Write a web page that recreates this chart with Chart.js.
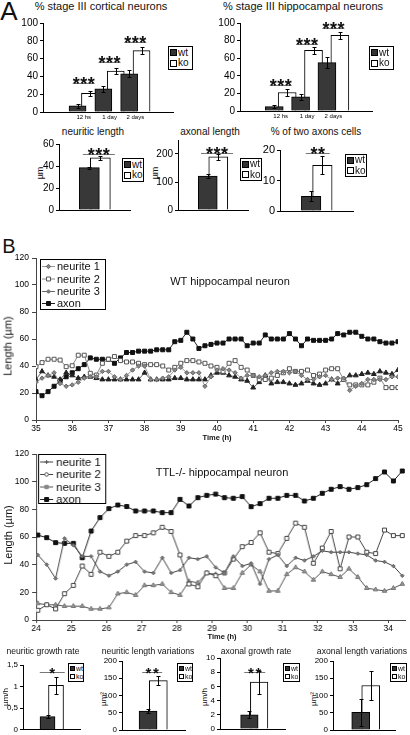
<!DOCTYPE html>
<html>
<head>
<meta charset="utf-8">
<title>TTL neurons</title>
<script src="https://cdn.jsdelivr.net/npm/chart.js@4.4.1/dist/chart.umd.min.js"></script>
<style>
  body { margin: 0; width: 410px; height: 735px; position: relative; overflow: hidden; background: #fff;
         font-family: "Liberation Sans", Arial, sans-serif; color: #111; }
  .box { position: absolute; }
  .txt { position: absolute; white-space: nowrap; line-height: 1; transform: translate(-50%, -50%); }
  .rot { transform: translate(-50%, -50%) rotate(-90deg); }
  .lg { position: absolute; border: 1px solid #000; background: #fff; box-sizing: border-box; white-space: nowrap;
        overflow: hidden; display: flex; flex-direction: column; justify-content: space-evenly; line-height: 1; z-index: 2; }
  .lg div { display: flex; align-items: center; }
  .lg span { display: inline-block; flex: none; border: 1px solid #000; box-sizing: border-box; margin: 0 1px 0 1px; }
</style>
</head>
<body>
<script>
// ---- panel A data ----
const stageGroups = ['12 hs', '1 day', '2 days'];
const legendLabels = ['wt', 'ko'];
const stageSig = ['***', '***', '***'];
const cortWt = [7, 26, 43], cortWtErr = [2, 3, 4];
const cortKo = [21, 46, 69], cortKoErr = [2.5, 3, 3.5];
const hipWt = [5, 16, 55], hipWtErr = [2, 3.5, 6];
const hipKo = [21, 69, 86], hipKoErr = [3.5, 4, 4];

const neuriticLenWt = [38.5], neuriticLenWtErr = [1], neuriticLenKo = [47.5], neuriticLenKoErr = [2];
const axonalLenWt = [121], axonalLenWtErr = [8], axonalLenKo = [190], axonalLenKoErr = [11];
const twoAxonsWt = [4.8], twoAxonsWtErr = [1.6], twoAxonsKo = [15], twoAxonsKoErr = [3];

// ---- panel B data ----
const seriesNames = ['neurite 1', 'neurite 2', 'neurite 3', 'axon'];
const wtStart = 35, wtStep = 1 / 6;     // h, one frame every 10 min
const wtNeurite1 = [28,31,33,35,27,25,26,28,31,32, 32,36,36,32,30,33,37,40,40,30, 30,31,32,37,39,35,35,35,25,32,
                    37,38,37,35,31,33,33,32,33,35, 36,36,35,36,33,30,30,32,33,30, 31,31,22,25,27,30,30,30,30,32, 32];
const wtNeurite2 = [39.5,42.5,45,45,44.4,39.5,40.2,48,48,34.6, 33.3,42,45,47,44,43,43,42,41,41, 41,40,37,39,42,44,44,43,42,40,
                    39,36,42,44,39,37,33,30,30,31, 33,35,38,36,36,37,33,34,37,38, 38,30,26,26,26,26,28,31,24,24, 24];
const wtNeurite3 = [30,36,33,32,30,35,33,31,32,32, 31,30,30,30,30,30,30,30,35,30, 30,30,30,31,31,30,30,30,30,33,
                    35,35,33,32,30,29,24,28,33,27, 28,28,27,26,27,29,27,26,27,30, 27,30,33,33,34,35,34,36,35,34, 37];
const wtAxon = [21,18,21,25,29,32,35,38,41,46, 45,45,45,42,46,50,50,51,51,51, 52,52,52,58,59,65,60,53,55,56,
                57,57,60,60,60,55,57,57,63,60, 60,60,64,60,55,60,59,59,59,60, 64,63,65,65,62,60,60,58,57,57, 58];

const ttlStart = 24.05, ttlStep = 0.2525;  // h, about one frame every 15 min
const ttlNeurite1 = [47,40,30,59,54,46,46,35,32,35, 40,42,35,34,45,34,36,45,44,46,
                     38,34,46,39,41,26,44,47,39,45, 43,46,50,49,49,49,48,47,43,42, 39,32];
const ttlNeurite2 = [7,11,8,19,25,39,33,49,46,49, 57,61,61,63,67,64,47,26,24,34,
                     32,34,44,53,56,63,49,48,59,70, 67,41,52,64,37,60,60,49,48,65, 61,61];
const ttlNeurite3 = [12,11,11,10,10,10,8,8,9,19, 20,18,25,25,26,20,18,28,27,34,
                     33,23,23,34,40,35,21,21,33,38, 35,29,35,33,31,37,31,23,22,21, 23,26];
const ttlAxon = [61.4,59.5,55.9,55.4,55.4,45,64.3,74,80.5,83.1, 82,78.8,78.8,78.8,77.6,77.6,87.2,82.4,88.4,90.1,
                 91,88.4,88,89.2,81.9,84.1,88,88,90.1,90.1, 86,88,91.6,94.5,96.4,94.5,95.7,97.8,102.2,107, 100.5,107.7];

const neuGrowthWt = [0.3], neuGrowthWtErr = [0.03], neuGrowthKo = [1.03], neuGrowthKoErr = [0.2];
const neuVarWt = [55], neuVarWtErr = [5], neuVarKo = [143], neuVarKoErr = [13];
const axGrowthWt = [2.0], axGrowthWtErr = [0.5], axGrowthKo = [6.6], axGrowthKoErr = [1.6];
const axVarWt = [51], axVarWtErr = [40], axVarKo = [129], axVarKoErr = [42];

const FONT = '"Liberation Sans", Arial, sans-serif';
Chart.defaults.font.family = FONT;
Chart.defaults.color = '#000';

function label(str, cx, cy, size, cls, extra) {
  const d = document.createElement('div');
  d.className = 'txt ' + (cls || '');
  d.style.cssText = `left:${cx}px;top:${cy}px;font-size:${size}px;` + (extra || '');
  d.textContent = str;
  document.body.appendChild(d);
}

function barLegend(x, y, w, h, fs, sq) {
  const d = document.createElement('div');
  d.className = 'lg';
  d.style.cssText = `left:${x}px;top:${y}px;width:${w}px;height:${h}px;font-size:${fs}px`;
  d.innerHTML = legendLabels.map((l, i) =>
    `<div><span style="width:${sq}px;height:${sq}px;background:${i ? '#fff' : '#333'}"></span>${l}</div>`).join('');
  document.body.appendChild(d);
}

// canvas sized so that the plot area lands on b.L..b.R / b.T..b.B
function place(b) {
  const d = document.createElement('div');
  d.className = 'box';
  const w = b.R - b.L + b.axW + b.padR, h = b.B - b.T + b.padT + b.axH;
  d.style.cssText = `left:${b.L - b.axW}px;top:${b.T - b.padT}px;width:${w}px;height:${h}px`;
  const c = document.createElement('canvas');
  d.appendChild(c);
  document.body.appendChild(d);
  return c;
}
const fixX = h => s => { s.height = h; s.paddingLeft = 0; s.paddingRight = 0; };
const fixY = w => s => { s.width = w; s.paddingTop = 0; s.paddingBottom = 0; };

// error bars + significance marks
const barExtras = {
  id: 'barExtras',
  afterDatasetsDraw(chart, args, o) {
    const ctx = chart.ctx, xs = chart.scales.x, ys = chart.scales.y;
    ctx.save();
    ctx.lineWidth = 1;
    chart.data.datasets.forEach((ds, di) => {
      ctx.strokeStyle = '#000';
      chart.getDatasetMeta(di).data.forEach((bar, k) => {
        const v = ds.data[k].y, e = ds.err[k];
        const x = Math.round(bar.x) + 0.5;
        const y1 = Math.round(ys.getPixelForValue(v + e)) + 0.5;
        const y2 = Math.round(ys.getPixelForValue(Math.max(v - e, 0))) + 0.5;
        ctx.beginPath();
        ctx.moveTo(x, y1); ctx.lineTo(x, y2);
        ctx.moveTo(x - o.cap, y1); ctx.lineTo(x + o.cap, y1);
        ctx.moveTo(x - o.cap, y2); ctx.lineTo(x + o.cap, y2);
        ctx.stroke();
      });
    });
    (o.sig || []).forEach((s, k) => {
      if (!s) return;
      const cx = xs.getPixelForValue(k), y = Math.round(ys.getPixelForValue(o.sigY[k])) + 0.5;
      ctx.strokeStyle = '#777';
      ctx.beginPath(); ctx.moveTo(cx + o.sigL, y); ctx.lineTo(cx + o.sigR, y); ctx.stroke();
      ctx.fillStyle = '#111';
      ctx.font = `bold ${o.starSize}px ${FONT}`;
      ctx.textAlign = 'center'; ctx.textBaseline = 'alphabetic';
      const mid = cx + (o.sigL + o.sigR) / 2;
      for (let j = 0; j < s.length; j++) {
        ctx.fillText('*', mid + (j - (s.length - 1) / 2) * o.starGap, y + o.starDy);
      }
    });
    ctx.restore();
  }
};

function barChart(b, o) {
  const cv = place(b);
  const ppu = (b.R - b.L) / (o.xmax - o.xmin);
  const off = o.off / ppu;
  const cats = o.cats || [''];
  const ds = (vals, errs, i) => ({
    label: legendLabels[i],
    data: vals.map((v, k) => ({ x: k + (i ? off : -off), y: v })),
    err: errs,
    backgroundColor: i ? '#fff' : '#383838',
    borderColor: '#000', borderWidth: 1,
    barThickness: o.bw, grouped: false
  });
  return new Chart(cv, {
    type: 'bar',
    data: { datasets: [ds(o.wt, o.wtErr, 0), ds(o.ko, o.koErr, 1)] },
    options: {
      responsive: true, maintainAspectRatio: false, devicePixelRatio: 1, animation: false,
      layout: { padding: { top: b.padT, right: b.padR, left: 0, bottom: 0 } },
      plugins: {
        legend: { display: false }, tooltip: { enabled: false },
        barExtras: { sig: o.sig, sigY: o.sigY, sigL: o.sigL, sigR: o.sigR, cap: o.cap || 2,
                     starSize: o.starSize || 18, starGap: o.starGap || 7.5, starDy: o.starDy || 6.5 }
      },
      scales: {
        x: {
          type: 'linear', min: o.xmin, max: o.xmax,
          afterBuildTicks: s => { s.ticks = cats.map((c, k) => ({ value: k })); },
          ticks: { display: !!o.cats, callback: v => cats[v], font: { size: o.catFont || 6 },
                   padding: 2, maxRotation: 0, autoSkip: false },
          grid: { display: false, drawTicks: false },
          border: { color: '#000', width: 1 },
          afterFit: fixX(b.axH)
        },
        y: {
          min: 0, max: o.ymax,
          ticks: { stepSize: o.step, font: { size: o.tickFont }, padding: 2,
                   callback: o.fmt || (v => v) },
          grid: { drawOnChartArea: false, tickLength: 3, color: '#000' },
          border: { color: '#000', width: 1 },
          afterFit: fixY(b.axW)
        }
      }
    },
    plugins: [barExtras]
  });
}

// ---- line charts ----
function mark(ctx, st, x, y) {
  const r = st.r;
  ctx.save();
  ctx.fillStyle = st.fill; ctx.strokeStyle = st.edge; ctx.lineWidth = 1;
  ctx.beginPath();
  if (st.pt === 'rect') { const s = r * Math.SQRT1_2; ctx.rect(x - s, y - s, 2 * s, 2 * s); }
  else if (st.pt === 'rectRot') { ctx.moveTo(x, y - r); ctx.lineTo(x + r, y); ctx.lineTo(x, y + r); ctx.lineTo(x - r, y); ctx.closePath(); }
  else if (st.pt === 'triangle') { ctx.moveTo(x, y - r); ctx.lineTo(x + r * 0.87, y + r * 0.5); ctx.lineTo(x - r * 0.87, y + r * 0.5); ctx.closePath(); }
  else if (st.pt === 'cross') { ctx.moveTo(x, y - r); ctx.lineTo(x, y + r); ctx.moveTo(x - r, y); ctx.lineTo(x + r, y); }
  else { ctx.arc(x, y, r, 0, Math.PI * 2); }
  if (st.pt !== 'cross') ctx.fill();
  ctx.stroke();
  ctx.restore();
}

const lineLegend = {
  id: 'lineLegend',
  afterDraw(chart, args, o) {
    const ctx = chart.ctx;
    ctx.save();
    ctx.fillStyle = '#fff'; ctx.strokeStyle = '#000'; ctx.lineWidth = 1;
    ctx.fillRect(o.x, o.y, o.w, o.h);
    ctx.strokeRect(o.x + 0.5, o.y + 0.5, o.w - 1, o.h - 1);
    ctx.font = `${o.size}px ${FONT}`;
    ctx.textBaseline = 'middle';
    o.styles.forEach((st, i) => {
      const y = o.rows[i];
      ctx.strokeStyle = st.line;
      ctx.beginPath(); ctx.moveTo(o.x + o.l1, y + 0.5); ctx.lineTo(o.x + o.l2, y + 0.5); ctx.stroke();
      mark(ctx, st.legend || st, o.x + (o.l1 + o.l2) / 2, y + 0.5);
      ctx.fillStyle = '#111';
      ctx.fillText(seriesNames[i], o.x + o.tx, y + 1);
    });
    ctx.restore();
  }
};

function lineChart(b, o) {
  const cv = place(b);
  const ox = b.L - b.axW, oy = b.T - b.padT;
  const datasets = o.series.map((vals, i) => {
    const st = o.styles[i];
    return {
      label: seriesNames[i],
      data: vals.map((v, k) => ({ x: o.t0 + k * o.dt, y: v })),
      borderColor: st.line, borderWidth: 1, tension: 0, fill: false,
      pointStyle: st.pt, pointRadius: st.r, pointBackgroundColor: st.fill,
      pointBorderColor: st.edge, pointBorderWidth: 1
    };
  });
  const lg = o.legend;
  return new Chart(cv, {
    type: 'line',
    data: { datasets },
    options: {
      responsive: true, maintainAspectRatio: false, devicePixelRatio: 1, animation: false,
      layout: { padding: { top: b.padT, right: b.padR, left: 0, bottom: 0 } },
      plugins: {
        legend: { display: false }, tooltip: { enabled: false },
        lineLegend: { x: lg.x - ox, y: lg.y - oy, w: lg.w, h: lg.h, rows: lg.rows.map(r => r - oy),
                      l1: lg.l1, l2: lg.l2, tx: lg.tx, size: lg.size, styles: o.styles }
      },
      scales: {
        x: {
          type: 'linear', min: o.xmin, max: o.xmax,
          ticks: { stepSize: 1, includeBounds: false, font: { size: 8.5 }, padding: 1, maxRotation: 0 },
          grid: { drawOnChartArea: false, tickLength: 3, color: '#444' },
          border: { color: '#444', width: 1 },
          afterFit: fixX(b.axH)
        },
        y: {
          min: 0, max: 120,
          ticks: { stepSize: 20, font: { size: 8.5 }, padding: 3 },
          grid: { drawOnChartArea: false, tickLength: 4, color: '#444' },
          border: { color: '#444', width: 1 },
          afterFit: fixY(b.axW)
        }
      }
    },
    plugins: [lineLegend]
  });
}

// ================= panel A =================
label('A', 9, 11, 26);
label('% stage III cortical neurons', 101, 6, 11);
label('% stage III hippocampal neurons', 303, 6, 11);

barChart({ L: 43, T: 23, R: 173, B: 112, axW: 26, axH: 10, padT: 6, padR: 4 },
  { wt: cortWt, wtErr: cortWtErr, ko: cortKo, koErr: cortKoErr, cats: stageGroups,
    xmin: -0.74, xmax: 2.62, off: 9.3, bw: 17, ymax: 100, step: 20, tickFont: 10,
    sig: stageSig, sigY: [33, 56.5, 79], sigL: -11, sigR: 11 });
barChart({ L: 240, T: 23, R: 372, B: 111, axW: 26, axH: 10, padT: 6, padR: 4 },
  { wt: hipWt, wtErr: hipWtErr, ko: hipKo, koErr: hipKoErr, cats: stageGroups,
    xmin: -0.71, xmax: 2.63, off: 9.7, bw: 18, ymax: 100, step: 20, tickFont: 10,
    sig: stageSig, sigY: [29.5, 76.6, 94.8], sigL: -11, sigR: 11 });
barLegend(168, 46, 25, 24, 10, 7);
barLegend(369, 46, 25, 24, 10, 7);

label('neuritic length', 93, 132, 10);
label('axonal length', 210, 132, 10);
label('% of two axons cells', 316, 132, 10);
label('µm', 40, 173, 9, 'rot');
label('µm', 155, 173, 9, 'rot');

barChart({ L: 59, T: 144, R: 130, B: 210, axW: 22, axH: 4, padT: 10, padR: 4 },
  { wt: neuriticLenWt, wtErr: neuriticLenWtErr, ko: neuriticLenKo, koErr: neuriticLenKoErr,
    xmin: -0.51, xmax: 0.49, off: 11, bw: 20, ymax: 60, step: 20, tickFont: 10,
    sig: ['***'], sigY: [50.6], sigL: -12, sigR: 20 });
barChart({ L: 178, T: 140, R: 248, B: 210, axW: 26, axH: 4, padT: 8, padR: 4 },
  { wt: axonalLenWt, wtErr: axonalLenWtErr, ko: axonalLenKo, koErr: axonalLenKoErr,
    xmin: -0.5, xmax: 0.5, off: 10.5, bw: 19, ymax: 250, step: 50, tickFont: 10,
    sig: ['***'], sigY: [204.6], sigL: -12, sigR: 20 });
barChart({ L: 280, T: 150, R: 353, B: 211, axW: 22, axH: 4, padT: 14, padR: 4 },
  { wt: twoAxonsWt, wtErr: twoAxonsWtErr, ko: twoAxonsKo, koErr: twoAxonsKoErr,
    xmin: -0.507, xmax: 0.493, off: 11.25, bw: 19.5, ymax: 20, step: 5, tickFont: 11,
    sig: ['**'], sigY: [19.1], sigL: -11, sigR: 13 });
barLegend(122, 158, 22, 24, 10, 7);
barLegend(240, 158, 22, 23, 10, 7);
barLegend(345, 154, 22, 23, 10, 7);

// ================= panel B =================
label('B', 9, 246, 20);

const wtStyles = [
  { line: '#999', pt: 'rectRot', r: 2.2, fill: '#888', edge: '#666' },
  { line: '#888', pt: 'rect', r: 2.8, fill: '#fff', edge: '#555' },
  { line: '#666', pt: 'triangle', r: 2.8, fill: '#222', edge: '#222', legend: { pt: 'circle', r: 1.6, fill: '#777', edge: '#777' } },
  { line: '#222', pt: 'rect', r: 2.8, fill: '#111', edge: '#111' }
];
lineChart({ L: 36, T: 258, R: 398, B: 420, axW: 30, axH: 16, padT: 6, padR: 8 },
  { series: [wtNeurite1, wtNeurite2, wtNeurite3, wtAxon], styles: wtStyles,
    t0: wtStart, dt: wtStep, xmin: 35, xmax: 45,
    legend: { x: 40, y: 259, w: 66, h: 51, rows: [266, 278.5, 291, 303], l1: 2, l2: 15, tx: 17, size: 11 } });
label('WT hippocampal neuron', 230, 281, 11);
label('Time (h)', 217, 438, 7.5, '', 'font-weight:bold');
label('Length (µm)', 8, 346, 11, 'rot');

const ttlStyles = [
  { line: '#444', pt: 'rectRot', r: 1.8, fill: '#777', edge: '#666', legend: { pt: 'cross', r: 2, fill: '#555', edge: '#555' } },
  { line: '#444', pt: 'rect', r: 2.8, fill: '#fff', edge: '#444', legend: { pt: 'circle', r: 1.8, fill: '#fff', edge: '#555' } },
  { line: '#555', pt: 'triangle', r: 2.6, fill: '#999', edge: '#777', legend: { pt: 'rect', r: 2.4, fill: '#888', edge: '#888' } },
  { line: '#222', pt: 'rect', r: 2.8, fill: '#111', edge: '#111' }
];
lineChart({ L: 36, T: 454, R: 407.7, B: 620, axW: 30, axH: 16, padT: 6, padR: 2 },
  { series: [ttlNeurite1, ttlNeurite2, ttlNeurite3, ttlAxon], styles: ttlStyles,
    t0: ttlStart, dt: ttlStep, xmin: 24, xmax: 34.5,
    legend: { x: 38, y: 454, w: 68, h: 50, rows: [461.5, 474, 486.5, 499], l1: 2, l2: 15, tx: 18, size: 11.5 } });
label('TTL-/- hippocampal neuron', 222, 472, 11);
label('Time (h)', 222, 637, 7.5, '', 'font-weight:bold');
label('Length (µm)', 8, 535, 11, 'rot');

// bottom row
label('neuritic growth rate', 43, 651, 8.6);
label('neuritic length variations', 148, 651, 8.6);
label('axonal growth rate', 256, 651, 8.6);
label('axonal length variations', 362, 651, 8.6);
label('µm/h', 6, 697, 8, 'rot');
label('µm²', 104, 699, 8, 'rot');
label('µm/h', 205, 697, 8, 'rot');
label('µm²', 314, 699, 8, 'rot');

const comma = v => String(v).replace('.', ',');
barChart({ L: 23, T: 664.5, R: 80, B: 729, axW: 20, axH: 4, padT: 6, padR: 2 },
  { wt: neuGrowthWt, wtErr: neuGrowthWtErr, ko: neuGrowthKo, koErr: neuGrowthKoErr,
    xmin: -0.509, xmax: 0.491, off: 8.5, bw: 15, ymax: 1.5, step: 0.5, tickFont: 8, fmt: comma,
    sig: ['*'], sigY: [1.33], sigL: -12, sigR: 13, starSize: 15, starDy: 5.5 });
barChart({ L: 122, T: 661, R: 185, B: 730, axW: 22, axH: 4, padT: 6, padR: 2 },
  { wt: neuVarWt, wtErr: neuVarWtErr, ko: neuVarKo, koErr: neuVarKoErr,
    xmin: -0.49, xmax: 0.51, off: 10.25, bw: 18, ymax: 200, step: 50, tickFont: 8,
    sig: ['**'], sigY: [168], sigL: -11, sigR: 9, starSize: 15, starDy: 5.5 });
barChart({ L: 220, T: 658, R: 285, B: 729, axW: 16, axH: 4, padT: 6, padR: 2 },
  { wt: axGrowthWt, wtErr: axGrowthWtErr, ko: axGrowthKo, koErr: axGrowthKoErr,
    xmin: -0.554, xmax: 0.446, off: 9.75, bw: 17.5, ymax: 10, step: 2, tickFont: 8,
    sig: ['**'], sigY: [8.0], sigL: -10, sigR: 11, starSize: 15, starDy: 5.5 });
barChart({ L: 333, T: 661, R: 395, B: 730, axW: 22, axH: 4, padT: 6, padR: 2 },
  { wt: axVarWt, wtErr: axVarWtErr, ko: axVarKo, koErr: axVarKoErr,
    xmin: -0.556, xmax: 0.444, off: 10, bw: 18, ymax: 200, step: 50, tickFont: 8,
    sig: [''], sigY: [0], sigL: 0, sigR: 0 });
barLegend(68, 663, 16, 19, 7, 5);
barLegend(177, 663, 16, 19, 7, 5);
barLegend(283, 663, 17, 19, 7, 5);
barLegend(390, 663, 17, 19, 7, 5);
</script>
</body>
</html>
